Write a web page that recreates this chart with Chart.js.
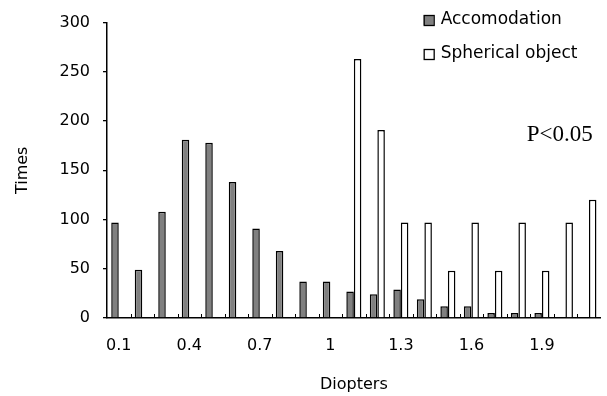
<!DOCTYPE html>
<html>
<head>
<meta charset="utf-8">
<script src="https://cdn.jsdelivr.net/npm/chart.js@4.4.1/dist/chart.umd.min.js"></script>
<style>
  html, body { margin: 0; padding: 0; background: #fff; overflow: hidden; }
  #wrap { position: relative; width: 607px; height: 396px; }
</style>
</head>
<body>
<div id="wrap"><canvas id="chart" width="607" height="396"></canvas></div>
<script>
// diopter categories
const diopters = ['0.1', '0.2', '0.3', '0.4', '0.5', '0.6', '0.7', '0.8', '0.9', '1',
  '1.1', '1.2', '1.3', '1.4', '1.5', '1.6', '1.7', '1.8', '1.9', '2', '2.1'];

const accomodation = [97, 49, 108, 181, 178, 138, 91, 68, 37, 37,
  27, 24, 29, 19, 12, 12, 5, 5, 5, 0, 0];

const spherical = [0, 0, 0, 0, 0, 0, 0, 0, 0, 0,
  263, 191, 97, 97, 48, 97, 48, 97, 48, 97, 120];

const seriesNames = ['Accomodation', 'Spherical object'];
const yTicks = [0, 50, 100, 150, 200, 250, 300];
const note = 'P<0.05';

const font = "'DejaVu Sans', sans-serif";

// ticks on the category axis point up into the plot, so draw them here
const innerTicks = {
  id: 'innerTicks',
  afterDatasetsDraw: (chart) => {
    const ctx = chart.ctx;
    const x = chart.scales.x;
    const area = chart.chartArea;
    const n = chart.data.labels.length;
    ctx.save();
    ctx.strokeStyle = '#000';
    ctx.lineWidth = 1;
    for (let i = 1; i < n; i++) {
      const px = Math.round((x.getPixelForValue(i - 1) + x.getPixelForValue(i)) / 2) + 0.5;
      ctx.beginPath();
      ctx.moveTo(px, area.bottom);
      ctx.lineTo(px, area.bottom - 4);
      ctx.stroke();
    }
    ctx.restore();
  }
};

// legend box top right and the p-value note
const extras = {
  id: 'extras',
  afterDraw: (chart) => {
    const ctx = chart.ctx;
    const area = chart.chartArea;
    ctx.save();
    chart.data.datasets.forEach((ds, i) => {
      const bx = area.right - 177;
      const by = 15 + i * 34;
      ctx.fillStyle = ds.backgroundColor;
      ctx.fillRect(bx, by, 10, 10);
      ctx.strokeStyle = '#000';
      ctx.lineWidth = 1.3;
      ctx.strokeRect(bx + 0.5, by + 0.5, 10, 10);
      ctx.fillStyle = '#000';
      ctx.font = '17px ' + font;
      ctx.textBaseline = 'middle';
      ctx.textAlign = 'left';
      ctx.fillText(ds.label, bx + 17, by + 5);
    });
    ctx.font = "23px 'Liberation Serif', serif";
    ctx.textAlign = 'right';
    ctx.textBaseline = 'alphabetic';
    ctx.fillStyle = '#000';
    ctx.fillText(note, area.right - 8, 141);
    ctx.restore();
  }
};

new Chart(document.getElementById('chart').getContext('2d'), {
  type: 'bar',
  data: {
    labels: diopters,
    datasets: [{
      label: seriesNames[0],
      data: accomodation,
      backgroundColor: '#808080',
      borderColor: '#000',
      borderWidth: 1.5,
      borderSkipped: 'bottom',
    },
    {
      label: seriesNames[1],
      data: spherical,
      backgroundColor: '#ffffff',
      borderColor: '#000',
      borderWidth: 1.5,
      borderSkipped: 'bottom',
    }]
  },
  plugins: [innerTicks, extras],
  options: {
    responsive: false,
    animation: false,
    devicePixelRatio: 1,
    layout: { padding: { top: 17, right: 3, left: 0, bottom: 0 } },
    plugins: {
      legend: { display: false },
      tooltip: { enabled: false },
    },
    datasets: {
      bar: { categoryPercentage: 0.64, barPercentage: 1.0 }
    },
    scales: {
      x: {
        offset: true,
        grid: { display: true, drawOnChartArea: false, drawTicks: false, offset: true },
        border: { display: true, color: '#000', width: 1.5 },
        ticks: {
          autoSkip: false,
          maxRotation: 0,
          padding: 18,
          color: '#000',
          font: { family: font, size: 16 },
          callback: (v, i) => (i % 3 === 0 ? diopters[i] : ''),
        },
        title: {
          display: true,
          text: 'Diopters',
          color: '#000',
          font: { family: font, size: 16 },
          padding: { top: 0, bottom: 2 },
        },
        afterFit: (scale) => { scale.height = 78; },
      },
      y: {
        min: 0,
        max: 300,
        afterBuildTicks: (scale) => { scale.ticks = yTicks.map((v) => ({ value: v })); },
        grid: { display: true, drawOnChartArea: false, drawTicks: true, tickLength: 4, color: '#000', lineWidth: 1.3 },
        border: { display: true, color: '#000', width: 1.5 },
        ticks: {
          padding: 13,
          color: '#000',
          font: { family: font, size: 16 },
        },
        title: {
          display: true,
          text: 'Times',
          color: '#000',
          font: { family: font, size: 16 },
          padding: { top: 13, bottom: 0 },
        },
        afterFit: (scale) => { scale.width = 107; },
      }
    }
  }
});
</script>
</body>
</html>
